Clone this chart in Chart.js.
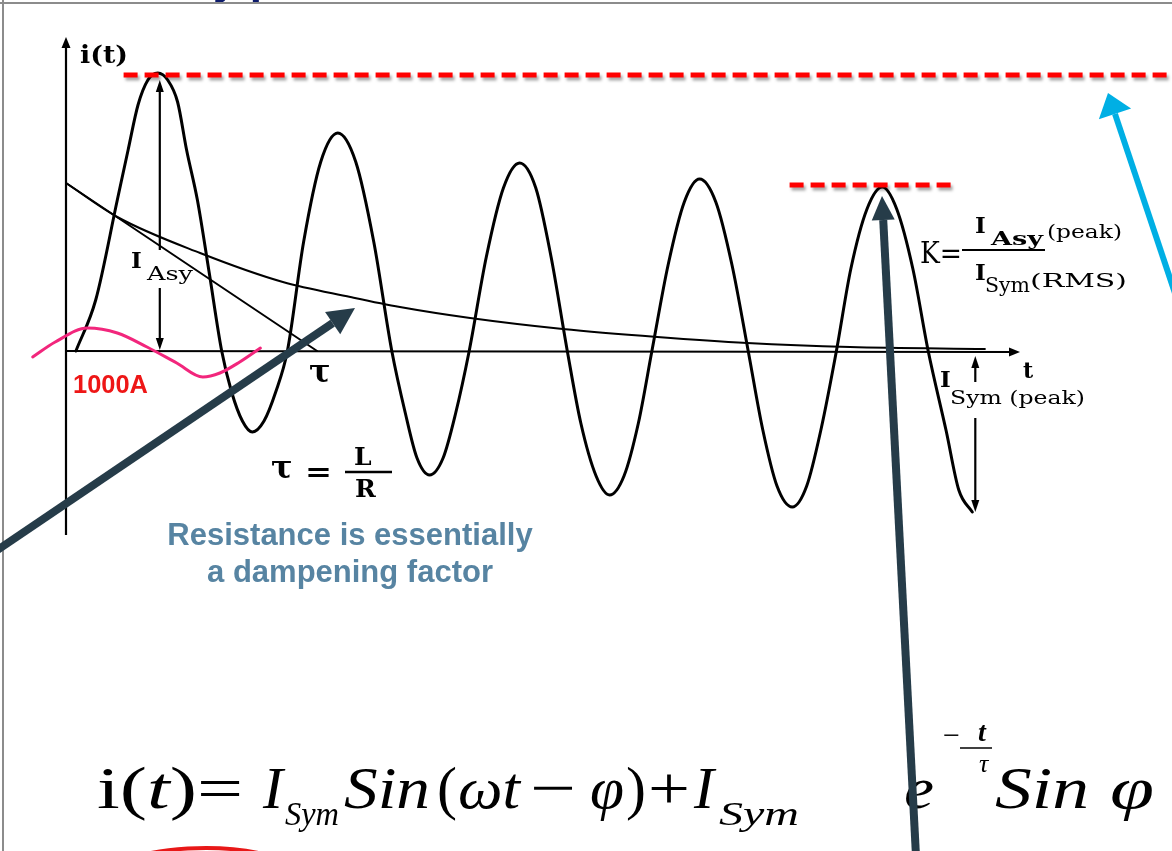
<!DOCTYPE html>
<html>
<head>
<meta charset="utf-8">
<title>Corriente de cortocircuito asimétrica</title>
<script src="https://cdn.jsdelivr.net/npm/chart.js@4.4.1/dist/chart.umd.min.js"></script>
<style>
    html, body { margin: 0; padding: 0; background: #fff; }
    canvas { display: block; }
</style>
</head>
<body>
<canvas id="graf" width="1172" height="851"></canvas>
<script>
// ==========================================================
// DATOS (t en ms, i en p.u.)
// ==========================================================
const waveT = [1.1, 3.3, 5.7, 6.9, 8.0, 9.1, 10.2, 11.3, 12.4, 13.4, 14.6, 15.9, 17.3,
               18.4, 19.6, 20.7, 22.0, 23.3, 24.6,
               26.4, 28.3, 30.2, 32.2, 34.2, 36.2,
               37.7, 39.0, 40.4, 41.9, 43.3, 44.8,
               46.7, 48.6, 50.4, 52.2, 53.9, 55.7,
               57.2, 58.9, 60.4, 62.0, 63.6, 65.1,
               66.9, 68.7, 70.4, 72.2, 74.0, 75.8,
               77.4, 79.0, 80.7, 82.3, 83.9, 85.6,
               87.2, 89.0, 90.7, 92.3, 94.1, 95.8,
               97.8, 99.2, 100.7];
const waveI = [0, 0.51, 1.51, 2.01, 2.46, 2.71, 2.78, 2.71, 2.49, 2.01, 1.51, 0.79, 0,
               -0.41, -0.70, -0.81, -0.70, -0.41, 0,
               1.09, 1.89, 2.18, 1.89, 1.09, 0,
               -0.62, -1.07, -1.24, -1.07, -0.62, 0,
               0.94, 1.63, 1.88, 1.63, 0.94, 0,
               -0.72, -1.25, -1.44, -1.25, -0.72, 0,
               0.86, 1.49, 1.72, 1.49, 0.86, 0,
               -0.78, -1.35, -1.56, -1.35, -0.78, 0,
               0.82, 1.42, 1.64, 1.42, 0.82, 0,
               -0.80, -1.39, -1.61];

// componente continua que decae
const decayT = [0, 5.7, 14.9, 24.1, 31.6, 37.1, 44.9, 55.2, 65.7, 75.7, 87.1, 102.1];
const decayI = [1.68, 1.34, 0.98, 0.69, 0.54, 0.44, 0.33, 0.22, 0.14, 0.08, 0.04, 0.02];

// tangente en el origen (corta el eje en tau)
const tangentT = [0, 27.9];
const tangentI = [1.68, 0];

// onda simétrica de referencia (1000A)
const rippleT = [-3.7, -1.2, 2.4, 5.7, 9.0, 12.3, 15.2, 17.1, 19.3, 21.6];
const rippleI = [-0.06, 0.09, 0.23, 0.18, 0.04, -0.12, -0.26, -0.22, -0.11, 0.03];

// líneas de pico
const peakLineT = [6.4, 123];
const peakLineI = [2.76, 2.76];
const lastPeakLineT = [80.4, 98.6];
const lastPeakLineI = [1.66, 1.66];

// ejes
const axisEndT = 106;
const axisI = [-1.84, 3.14];

function pts(xs, ys) {
    return xs.map((x, k) => ({ x: x, y: ys[k] }));
}

// ==========================================================
// UTILIDADES DE DIBUJO
// ==========================================================
function texto(ctx, s, x, y, font, color, w) {
    ctx.save();
    ctx.font = font;
    ctx.fillStyle = color || '#000';
    ctx.textAlign = 'left';
    ctx.textBaseline = 'alphabetic';
    if (w) {
        const m = ctx.measureText(s).width;
        ctx.translate(x, y);
        ctx.scale(w / m, 1);
        ctx.fillText(s, 0, 0);
    } else {
        ctx.fillText(s, x, y);
    }
    ctx.restore();
}

// varios tramos con distinta fuente, estirados juntos hasta el ancho w
function tramo(ctx, partes, x, y, w) {
    ctx.save();
    let total = 0;
    partes.forEach(p => { ctx.font = p[1]; total += ctx.measureText(p[0]).width; });
    ctx.translate(x, y);
    ctx.scale(w / total, 1);
    ctx.fillStyle = '#000';
    let cx = 0;
    partes.forEach(p => {
        ctx.font = p[1];
        ctx.fillText(p[0], cx, 0);
        cx += ctx.measureText(p[0]).width;
    });
    ctx.restore();
}

function flecha(ctx, x1, y1, x2, y2, grosor, largo, ancho, color) {
    const ang = Math.atan2(y2 - y1, x2 - x1);
    const bx = x2 - Math.cos(ang) * largo;
    const by = y2 - Math.sin(ang) * largo;
    ctx.save();
    ctx.strokeStyle = color;
    ctx.fillStyle = color;
    ctx.lineWidth = grosor;
    ctx.lineCap = 'butt';
    ctx.beginPath();
    ctx.moveTo(x1, y1);
    ctx.lineTo(bx, by);
    ctx.stroke();
    ctx.beginPath();
    ctx.moveTo(x2, y2);
    ctx.lineTo(bx + Math.sin(ang) * ancho / 2, by - Math.cos(ang) * ancho / 2);
    ctx.lineTo(bx - Math.sin(ang) * ancho / 2, by + Math.cos(ang) * ancho / 2);
    ctx.closePath();
    ctx.fill();
    ctx.restore();
}

function linea(ctx, x1, y1, x2, y2, grosor, color) {
    ctx.save();
    ctx.strokeStyle = color;
    ctx.lineWidth = grosor;
    ctx.beginPath();
    ctx.moveTo(x1, y1);
    ctx.lineTo(x2, y2);
    ctx.stroke();
    ctx.restore();
}

const SERIF = "'DejaVu Serif', serif";
const TIMES = "'Liberation Serif', 'Times New Roman', serif";
const SANS = "'Liberation Sans', Arial, sans-serif";

// ==========================================================
// PLUGINS
// ==========================================================
const fondo = {
    id: 'fondo',
    beforeDraw(chart) {
        const ctx = chart.ctx;
        ctx.save();
        ctx.fillStyle = '#fff';
        ctx.fillRect(0, 0, chart.width, chart.height);
        ctx.restore();
    }
};

// sombra de las líneas discontinuas rojas
const sombra = {
    id: 'sombra',
    beforeDatasetDraw(chart, args) {
        if (chart.data.datasets[args.index].sombra) {
            const ctx = chart.ctx;
            ctx.save();
            ctx.shadowColor = 'rgba(0,0,0,0.35)';
            ctx.shadowOffsetX = 2;
            ctx.shadowOffsetY = 3;
            ctx.shadowBlur = 3;
        }
    },
    afterDatasetDraw(chart, args) {
        if (chart.data.datasets[args.index].sombra) chart.ctx.restore();
    }
};

const ejes = {
    id: 'ejes',
    beforeDatasetsDraw(chart) {
        const ctx = chart.ctx;
        const sx = chart.scales.x, sy = chart.scales.y;
        const x0 = sx.getPixelForValue(0), y0 = sy.getPixelForValue(0);
        flecha(ctx, x0, sy.getPixelForValue(axisI[0]), x0, sy.getPixelForValue(axisI[1]), 2.2, 11, 9, '#000');
        flecha(ctx, x0, y0, sx.getPixelForValue(axisEndT), y0 + 1, 2, 11, 9, '#000');
    }
};

const anotaciones = {
    id: 'anotaciones',
    afterDatasetsDraw(chart) {
        const ctx = chart.ctx;
        const sx = chart.scales.x, sy = chart.scales.y;

        // título cortado de la diapositiva
        texto(ctx, 'y p', 213, -6, 'bold 44px ' + SANS, '#0c1a6b');

        // marco
        linea(ctx, 0, 3, chart.width, 3, 2, '#8c8c8c');
        linea(ctx, 3, 0, 3, chart.height, 2, '#8c8c8c');

        // etiquetas de ejes
        texto(ctx, 'i(t)', 80, 63, 'bold 25px ' + SERIF, '#000', 48);
        texto(ctx, 't', 1023, 378, 'bold 22px ' + SERIF);

        // I_Asy: del eje al primer pico
        const kPico = waveI.indexOf(Math.max(...waveI));
        const xa = sx.getPixelForValue(waveT[kPico]) + 2;
        const yPico = sy.getPixelForValue(waveI[kPico]);
        const yCero = sy.getPixelForValue(0);
        flecha(ctx, xa, 250, xa, yPico + 7, 2.2, 12, 8, '#000');
        flecha(ctx, xa, 288, xa, yCero - 1, 2.2, 12, 8, '#000');
        texto(ctx, 'I', 131, 268, 'bold 23px ' + SERIF);
        texto(ctx, 'Asy', 147, 280, '18px ' + SERIF, '#000', 46);

        // I_Sym (peak): del eje al último valle
        const kFin = waveI.length - 1;
        const xs = sx.getPixelForValue(waveT[kFin]) + 3;
        flecha(ctx, xs, 382, xs, yCero + 5, 2.2, 12, 8, '#000');
        flecha(ctx, xs, 418, xs, sy.getPixelForValue(waveI[kFin]), 2.2, 12, 8, '#000');
        texto(ctx, 'I', 940, 387, 'bold 23px ' + SERIF);
        texto(ctx, 'Sym (peak)', 950, 404, '18px ' + SERIF, '#000', 135);

        // tau
        texto(ctx, 'τ', 309, 382, 'bold 32px ' + SERIF);
        texto(ctx, 'τ', 271, 478, 'bold 32px ' + SERIF);
        texto(ctx, '=', 305, 481, 'bold 28px ' + SERIF, '#000', 27);
        texto(ctx, 'L', 354, 465, 'bold 25px ' + SERIF);
        linea(ctx, 345, 472, 392, 472, 2.5, '#000');
        texto(ctx, 'R', 355, 497, 'bold 25px ' + SERIF);

        // factor K
        texto(ctx, 'K=', 920, 263, '29px ' + SERIF, '#000', 42);
        texto(ctx, 'I', 975, 233, 'bold 23px ' + SERIF);
        texto(ctx, 'Asy', 991, 245, 'bold 19px ' + SERIF, '#000', 52);
        texto(ctx, '(peak)', 1047, 238, '19px ' + SERIF, '#000', 75);
        linea(ctx, 962, 250, 1045, 250, 2, '#000');
        texto(ctx, 'I', 975, 280, 'bold 23px ' + SERIF);
        texto(ctx, 'Sym', 985, 292, '20px ' + SERIF, '#000', 45);
        texto(ctx, '(RMS)', 1030, 287, '19px ' + SERIF, '#000', 97);

        // 1000A
        texto(ctx, '1000A', 73, 393, 'bold 25px ' + SANS, '#ee1616', 75);

        // nota
        ctx.save();
        ctx.font = 'bold 31px ' + SANS;
        ctx.fillStyle = '#5784a2';
        ctx.textAlign = 'center';
        ctx.fillText('Resistance is essentially', 350, 545);
        ctx.fillText('a dampening factor', 350, 582);
        ctx.restore();

        // ecuación
        const up = '60px ' + TIMES;
        const it = 'italic 60px ' + TIMES;
        const sub = 'italic 34px ' + TIMES;
        const yb = 808;
        tramo(ctx, [['i(', up], ['t', it], [')', up], ['=', up]], 97, yb, 146);
        texto(ctx, 'I', 263, yb, it);
        texto(ctx, 'Sym', 285, yb + 17, sub, '#000', 54);
        texto(ctx, 'Sin', 344, yb, it, '#000', 86);
        texto(ctx, '(', 437, yb, up);
        texto(ctx, 'ωt', 458, yb, it, '#000', 62);
        texto(ctx, '−', 530, yb, up, '#000', 46);
        texto(ctx, 'φ', 590, yb, it, '#000', 34);
        texto(ctx, ')', 626, yb, up);
        texto(ctx, '+', 648, yb, up, '#000', 42);
        texto(ctx, 'I', 694, yb, it);
        texto(ctx, 'Sym', 719, yb + 17, sub, '#000', 80);
        texto(ctx, 'e', 904, yb, it, '#000', 30);
        texto(ctx, '−', 943, 745, '30px ' + TIMES, '#000', 17);
        texto(ctx, 't', 978, 741, 'italic bold 28px ' + TIMES);
        linea(ctx, 960, 748, 992, 748, 1.5, '#000');
        texto(ctx, 'τ', 979, 772, 'italic 26px ' + TIMES);
        texto(ctx, 'Sin', 995, yb, it, '#000', 94);
        texto(ctx, 'φ', 1110, yb, it, '#000', 44);

        // óvalo rojo inferior
        ctx.save();
        ctx.strokeStyle = '#e81818';
        ctx.lineWidth = 4;
        ctx.beginPath();
        ctx.ellipse(205, 888, 110, 40, 0, Math.PI * 1.2, Math.PI * 1.8);
        ctx.stroke();
        ctx.restore();

        // flechas de la diapositiva
        flecha(ctx, -4, 551, 355, 308, 8, 27, 27, '#263c49');
        flecha(ctx, 916, 856, 882, 196, 8, 24, 23, '#263c49');
        flecha(ctx, 1190, 338, 1108, 93, 6, 22, 34, '#00afe4');
    }
};

// ==========================================================
// GRÁFICO
// ==========================================================
const ctx = document.getElementById('graf').getContext('2d');
const base = { pointRadius: 0, fill: false, borderCapStyle: 'round', borderJoinStyle: 'round' };

new Chart(ctx, {
    type: 'line',
    data: {
        datasets: [
            Object.assign({ data: pts(rippleT, rippleI), borderColor: '#f2267c', borderWidth: 3,
                            cubicInterpolationMode: 'monotone', order: 1 }, base),
            Object.assign({ data: pts(peakLineT, peakLineI), borderColor: '#ff0000', borderWidth: 5,
                            borderDash: [14, 7], sombra: true, order: 2 }, base, { borderCapStyle: 'butt' }),
            Object.assign({ data: pts(lastPeakLineT, lastPeakLineI), borderColor: '#ff0000', borderWidth: 5,
                            borderDash: [14, 7], sombra: true, order: 2 }, base, { borderCapStyle: 'butt' }),
            Object.assign({ data: pts(waveT, waveI), borderColor: '#000', borderWidth: 3,
                            cubicInterpolationMode: 'monotone', order: 3 }, base),
            Object.assign({ data: pts(decayT, decayI), borderColor: '#000', borderWidth: 2,
                            cubicInterpolationMode: 'monotone', order: 4 }, base),
            Object.assign({ data: pts(tangentT, tangentI), borderColor: '#000', borderWidth: 2,
                            tension: 0, order: 4 }, base)
        ]
    },
    options: {
        responsive: false,
        animation: false,
        layout: { padding: 0 },
        plugins: { legend: { display: false }, tooltip: { enabled: false } },
        scales: {
            x: { type: 'linear', min: -66 / 9, max: -66 / 9 + 1172 / 9, display: false },
            y: { type: 'linear', min: -5.0, max: 3.51, display: false }
        }
    },
    plugins: [fondo, sombra, ejes, anotaciones]
});
</script>
</body>
</html>
